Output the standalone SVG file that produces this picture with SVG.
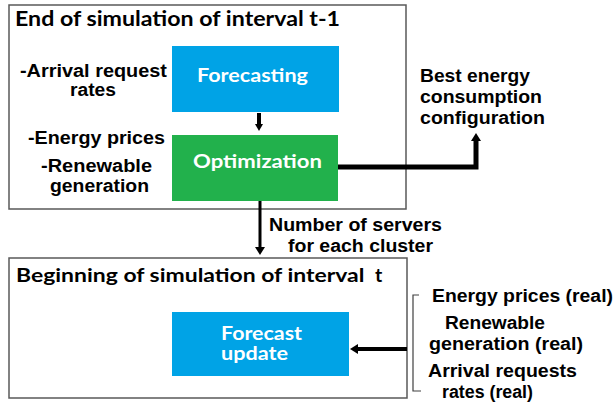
<svg xmlns="http://www.w3.org/2000/svg" width="616" height="406" viewBox="0 0 616 406">
<style>
.frame{fill:#ffffff;stroke:#595959;stroke-width:1.5}
.blue{fill:#00A3E6}
.green{fill:#22B14C}
.ttl{font-family:Lato,"Open Sans","Liberation Sans",sans-serif;font-weight:bold;fill:#000}
.wt{font-family:Lato,"Open Sans","Liberation Sans",sans-serif;font-weight:bold;fill:#ffffff;font-size:19px}
.lbl{font-family:"Liberation Sans",Arial,sans-serif;font-weight:bold;font-size:18px;fill:#000}
.con{fill:none;stroke:#000}
.brk{fill:none;stroke:#404040;stroke-width:1.2}
</style>
<defs>
<marker id="head" viewBox="0 0 8 10" refX="0" refY="5" markerWidth="8" markerHeight="10" markerUnits="userSpaceOnUse" orient="auto">
<path d="M0,0 L8,5 L0,10 Z" fill="#000"/>
</marker>
<marker id="headS" viewBox="0 0 7 8" refX="0" refY="4" markerWidth="7" markerHeight="8" markerUnits="userSpaceOnUse" orient="auto">
<path d="M0,0 L7,4 L0,8 Z" fill="#000"/>
</marker>
</defs>

<g id="frame-top">
<rect class="frame" x="9" y="5" width="397" height="204"/>
<text class="ttl" x="15" y="26" font-size="21" textLength="325" lengthAdjust="spacingAndGlyphs">End of simulation of interval t-1</text>
</g>

<g id="frame-bottom">
<rect class="frame" x="9" y="258" width="398" height="140"/>
<text class="ttl" x="16" y="282" font-size="19.5"><tspan textLength="354" lengthAdjust="spacingAndGlyphs">Beginning of simulation of interval </tspan><tspan x="375">t</tspan></text>
</g>

<g id="inputs-top">
<text class="lbl" x="20" y="77" textLength="147" lengthAdjust="spacingAndGlyphs">-Arrival request</text>
<text class="lbl" x="70" y="96" textLength="46" lengthAdjust="spacingAndGlyphs">rates</text>
<text class="lbl" x="28" y="144" textLength="137" lengthAdjust="spacingAndGlyphs">-Energy prices</text>
<text class="lbl" x="41" y="172" textLength="111" lengthAdjust="spacingAndGlyphs">-Renewable</text>
<text class="lbl" x="50" y="192" textLength="99" lengthAdjust="spacingAndGlyphs">generation</text>
</g>

<g id="forecasting">
<rect class="blue" x="172" y="46" width="167" height="66"/>
<text class="wt" x="197" y="82" textLength="111" lengthAdjust="spacingAndGlyphs">Forecasting</text>
</g>

<g id="optimization">
<rect class="green" x="172" y="135" width="166" height="66"/>
<text class="wt" x="193" y="168" textLength="129" lengthAdjust="spacingAndGlyphs">Optimization</text>
</g>

<g id="best-config">
<text class="lbl" x="420" y="82" textLength="110" lengthAdjust="spacingAndGlyphs">Best energy</text>
<text class="lbl" x="420" y="103" textLength="122" lengthAdjust="spacingAndGlyphs">consumption</text>
<text class="lbl" x="420" y="124" textLength="125" lengthAdjust="spacingAndGlyphs">configuration</text>
</g>

<g id="forecast-update">
<rect class="blue" x="172" y="312" width="177" height="64"/>
<text class="wt" x="221" y="340" font-size="17.5" textLength="81" lengthAdjust="spacingAndGlyphs">Forecast</text>
<text class="wt" x="221" y="360" font-size="17.5" textLength="67" lengthAdjust="spacingAndGlyphs">update</text>
</g>

<g id="inputs-real">
<path class="brk" d="M419,295 H413 V391 H421"/>
<text class="lbl" x="432" y="302" textLength="181" lengthAdjust="spacingAndGlyphs">Energy prices (real)</text>
<text class="lbl" x="445" y="329" textLength="100" lengthAdjust="spacingAndGlyphs">Renewable</text>
<text class="lbl" x="429" y="350" textLength="154" lengthAdjust="spacingAndGlyphs">generation (real)</text>
<text class="lbl" x="428" y="377" textLength="149" lengthAdjust="spacingAndGlyphs">Arrival requests</text>
<text class="lbl" x="442" y="398" textLength="91" lengthAdjust="spacingAndGlyphs">rates (real)</text>
</g>

<g id="connectors">
<path class="con" stroke-width="4" d="M259,113 V124" marker-end="url(#headS)"/>
<path class="con" stroke-width="5" d="M338,167 H476 V141" marker-end="url(#head)"/>
<path class="con" stroke-width="3" d="M260,201 V247" marker-end="url(#head)"/>
<path class="con" stroke-width="4" d="M407,349 H358" marker-end="url(#head)"/>
<text class="lbl" x="269" y="231" textLength="173" lengthAdjust="spacingAndGlyphs">Number of servers</text>
<text class="lbl" x="288" y="252" textLength="145" lengthAdjust="spacingAndGlyphs">for each cluster</text>
</g>
</svg>
